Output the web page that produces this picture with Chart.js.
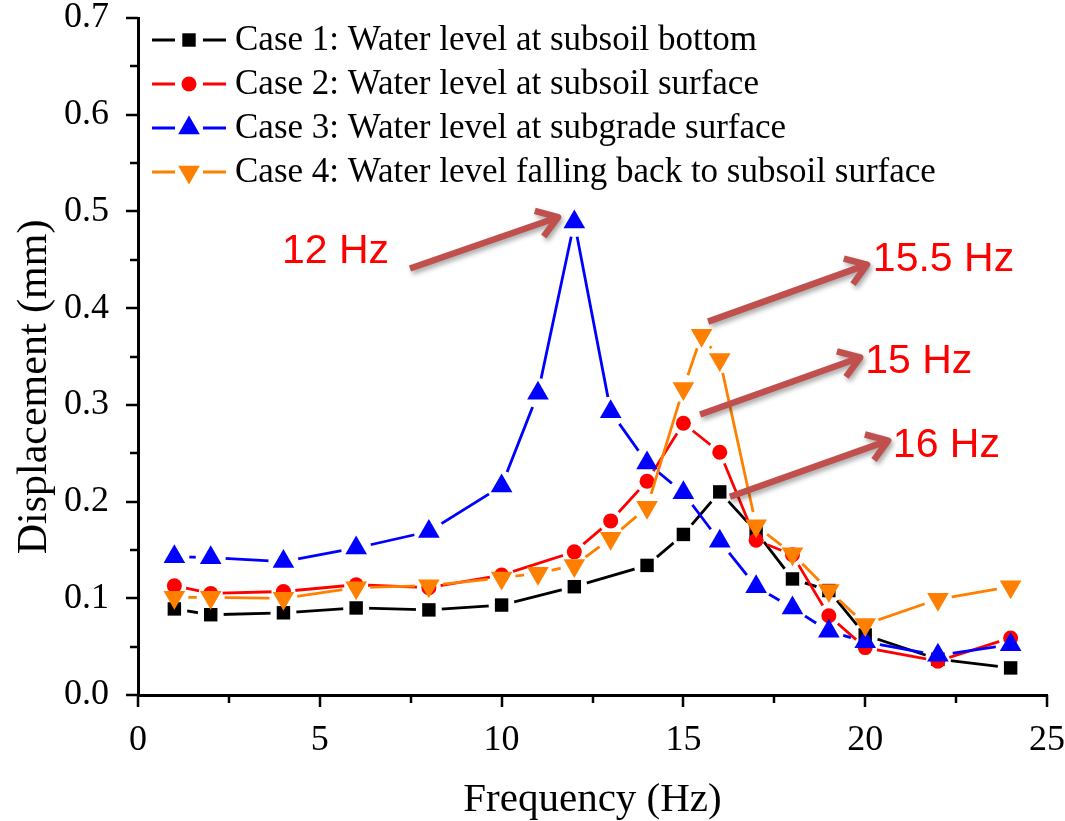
<!DOCTYPE html>
<html>
<head>
<meta charset="utf-8">
<script src="https://cdn.jsdelivr.net/npm/chart.js@4/dist/chart.umd.min.js"></script>
<style>
  html, body { margin: 0; padding: 0; background: #fff; }
</style>
</head>
<body>
<canvas id="chart" width="1065" height="821"></canvas>
<script>
// Frequencies (Hz) and displacement (mm)
const freq1 = [1, 2, 4, 6, 8, 10, 12, 14, 15, 16, 17, 18, 19, 20, 22, 24];
const case1 = [0.089, 0.083, 0.085, 0.090, 0.088, 0.093, 0.112, 0.134, 0.166, 0.210, 0.169, 0.120, 0.108, 0.062, 0.037, 0.028];

const freq2 = [1, 2, 4, 6, 8, 10, 12, 13, 14, 15, 16, 17, 18, 19, 20, 22, 24];
const case2 = [0.113, 0.105, 0.107, 0.114, 0.111, 0.124, 0.148, 0.180, 0.221, 0.281, 0.251, 0.160, 0.145, 0.082, 0.049, 0.035, 0.059];

const freq3 = [1, 2, 4, 6, 8, 10, 11, 12, 13, 14, 15, 16, 17, 18, 19, 20, 22, 24];
const case3 = [0.143, 0.142, 0.138, 0.152, 0.169, 0.216, 0.312, 0.489, 0.293, 0.240, 0.209, 0.159, 0.112, 0.090, 0.066, 0.055, 0.041, 0.052];

const freq4 = [1, 2, 4, 6, 8, 10, 11, 12, 13, 14, 15, 15.5, 16, 17, 18, 19, 20, 22, 24];
const case4 = [0.101, 0.101, 0.100, 0.111, 0.113, 0.121, 0.126, 0.134, 0.162, 0.194, 0.317, 0.372, 0.347, 0.175, 0.146, 0.108, 0.073, 0.099, 0.112];

const caseNames = [
    'Case 1: Water level at subsoil bottom',
    'Case 2: Water level at subsoil surface',
    'Case 3: Water level at subgrade surface',
    'Case 4: Water level falling back to subsoil surface'
];

const xTicksMajor = [0, 5, 10, 15, 20, 25];
const yTicksMajor = [0, 0.1, 0.2, 0.3, 0.4, 0.5, 0.6, 0.7];

const SERIF = "'Liberation Serif', 'Times New Roman', serif";
const SANS = "'Liberation Sans', Arial, sans-serif";

const series = [
    { label: caseNames[0], x: freq1, y: case1, color: '#000000', style: 'rect', radius: 9.5, rotation: 0, gap: 13 },
    { label: caseNames[1], x: freq2, y: case2, color: '#ff0000', style: 'circle', radius: 7.5, rotation: 0, gap: 12 },
    { label: caseNames[2], x: freq3, y: case3, color: '#0000ff', style: 'triangle', radius: 12.5, rotation: 0, gap: 15 },
    { label: caseNames[3], x: freq4, y: case4, color: '#ff8000', style: 'triangle', radius: 12.5, rotation: 180, gap: 14 }
];

// each case gets a line dataset (with gaps at its own symbols) and a symbol dataset
const datasets = [];
series.forEach((s, i) => {
    const pts = s.x.map((v, k) => ({ x: v, y: s.y[k] }));
    datasets.push({
        label: s.label,
        data: pts,
        borderColor: s.color,
        borderWidth: 2.8,
        pointRadius: 0,
        tension: 0,
        gap: s.gap,
        order: 8 - 2 * i
    });
    datasets.push({
        label: s.label,
        data: pts,
        showLine: false,
        pointStyle: s.style,
        pointRadius: s.radius,
        pointRotation: s.rotation,
        pointBackgroundColor: s.color,
        pointBorderColor: s.color,
        pointBorderWidth: 0,
        order: 7 - 2 * i
    });
});

// arrows and labels, in data coordinates
const notes = [
    { text: '12 Hz', at: [3.96, 0.447], from: [7.48, 0.441], to: [11.55, 0.494] },
    { text: '15.5 Hz', at: [20.21, 0.438], from: [15.68, 0.386], to: [20.05, 0.445] },
    { text: '15 Hz', at: [20.0, 0.333], from: [15.46, 0.290], to: [19.86, 0.349] },
    { text: '16 Hz', at: [20.76, 0.246], from: [16.28, 0.205], to: [20.63, 0.263] }
];

const lineGaps = {
    id: 'lineGaps',
    beforeDatasetDraw(chart, args) {
        const ds = chart.data.datasets[args.index];
        if (!ds.gap) return;
        const ctx = chart.ctx;
        ctx.save();
        ctx.beginPath();
        ctx.rect(0, 0, chart.width, chart.height);
        args.meta.data.forEach(p => {
            ctx.moveTo(p.x + ds.gap, p.y);
            ctx.arc(p.x, p.y, ds.gap, 0, Math.PI * 2);
        });
        ctx.clip('evenodd');
    },
    afterDatasetDraw(chart, args) {
        if (chart.data.datasets[args.index].gap) chart.ctx.restore();
    }
};

const axisTicks = {
    id: 'axisTicks',
    afterDraw(chart) {
        const { ctx, chartArea } = chart;
        const { x, y } = chart.scales;
        ctx.save();
        ctx.strokeStyle = '#000';
        ctx.lineWidth = 2.5;
        ctx.beginPath();
        for (let i = 0; i < xTicksMajor.length; i++) {
            const px = Math.round(x.getPixelForValue(xTicksMajor[i]));
            ctx.moveTo(px, chartArea.bottom);
            ctx.lineTo(px, chartArea.bottom + 12);
            if (i < xTicksMajor.length - 1) {
                const mx = Math.round(x.getPixelForValue((xTicksMajor[i] + xTicksMajor[i + 1]) / 2));
                ctx.moveTo(mx, chartArea.bottom);
                ctx.lineTo(mx, chartArea.bottom + 8);
            }
        }
        for (let i = 0; i < yTicksMajor.length; i++) {
            const py = Math.round(y.getPixelForValue(yTicksMajor[i]));
            ctx.moveTo(chartArea.left, py);
            ctx.lineTo(chartArea.left - 12, py);
            if (i < yTicksMajor.length - 1) {
                const my = Math.round(y.getPixelForValue((yTicksMajor[i] + yTicksMajor[i + 1]) / 2));
                ctx.moveTo(chartArea.left, my);
                ctx.lineTo(chartArea.left - 8, my);
            }
        }
        ctx.stroke();

        // y-axis title, sitting a little below the axis midpoint as in the original
        ctx.save();
        ctx.translate(35, chartArea.top + (chartArea.bottom - chartArea.top) * 0.545);
        ctx.rotate(-Math.PI / 2);
        ctx.fillStyle = '#000';
        ctx.font = '42px ' + SERIF;
        ctx.textAlign = 'center';
        ctx.textBaseline = 'middle';
        ctx.fillText('Displacement (mm)', 0, 0);
        ctx.restore();
        ctx.restore();
    }
};

const insideLegend = {
    id: 'insideLegend',
    afterDraw(chart) {
        const { ctx, chartArea } = chart;
        const left = chartArea.left;
        ctx.save();
        series.forEach((s, i) => {
            const yy = chartArea.top + 22 + i * 44;
            const mx = left + 51;
            ctx.strokeStyle = s.color;
            ctx.lineWidth = 2.8;
            ctx.beginPath();
            ctx.moveTo(left + 14, yy);
            ctx.lineTo(mx - 14, yy);
            ctx.moveTo(mx + 14, yy);
            ctx.lineTo(left + 88, yy);
            ctx.stroke();
            ctx.fillStyle = s.color;
            Chart.helpers.drawPoint(ctx, {
                pointStyle: s.style, radius: s.radius, rotation: s.rotation, borderWidth: 0
            }, mx, yy);
            ctx.fillStyle = '#000';
            ctx.font = '35px ' + SERIF;
            ctx.textBaseline = 'middle';
            ctx.textAlign = 'left';
            ctx.fillText(s.label, left + 97, yy + 1);
        });
        ctx.restore();
    }
};

const peakNotes = {
    id: 'peakNotes',
    afterDatasetsDraw(chart) {
        const { ctx } = chart;
        const { x, y } = chart.scales;
        ctx.save();
        notes.forEach(n => {
            const x1 = x.getPixelForValue(n.from[0]), y1 = y.getPixelForValue(n.from[1]);
            const x2 = x.getPixelForValue(n.to[0]), y2 = y.getPixelForValue(n.to[1]);
            const ang = Math.atan2(y2 - y1, x2 - x1);
            const head = 24, spread = 0.6;
            ctx.save();
            ctx.shadowColor = 'rgba(0,0,0,0.35)';
            ctx.shadowBlur = 5;
            ctx.shadowOffsetX = 2;
            ctx.shadowOffsetY = 3;
            ctx.strokeStyle = '#c0504d';
            ctx.lineWidth = 6.5;
            ctx.lineCap = 'butt';
            ctx.lineJoin = 'round';
            ctx.beginPath();
            ctx.moveTo(x1, y1);
            ctx.lineTo(x2, y2);
            ctx.moveTo(x2 - head * Math.cos(ang - spread), y2 - head * Math.sin(ang - spread));
            ctx.lineTo(x2, y2);
            ctx.lineTo(x2 - head * Math.cos(ang + spread), y2 - head * Math.sin(ang + spread));
            ctx.stroke();
            ctx.restore();

            ctx.fillStyle = '#ff0000';
            ctx.font = '41px ' + SANS;
            ctx.textAlign = 'left';
            ctx.textBaseline = 'alphabetic';
            ctx.fillText(n.text, x.getPixelForValue(n.at[0]), y.getPixelForValue(n.at[1]));
        });
        ctx.restore();
    }
};

new Chart(document.getElementById('chart'), {
    type: 'line',
    data: { datasets },
    plugins: [lineGaps, axisTicks, insideLegend, peakNotes],
    options: {
        responsive: false,
        animation: false,
        events: [],
        layout: { padding: { top: 18, right: 18, left: 0, bottom: 0 } },
        plugins: {
            legend: { display: false },
            tooltip: { enabled: false }
        },
        scales: {
            x: {
                type: 'linear',
                min: 0,
                max: 25,
                grid: { display: false },
                border: { display: true, color: '#000', width: 3 },
                ticks: {
                    stepSize: 5,
                    padding: 16,
                    color: '#000',
                    font: { family: SERIF, size: 36 }
                },
                title: {
                    display: true,
                    text: 'Frequency (Hz)',
                    color: '#000',
                    font: { family: SERIF, size: 41, lineHeight: 1 },
                    padding: { top: 0, bottom: 0 }
                },
                afterFit(scale) {
                    scale.height = 126;
                    scale.paddingLeft = 0;
                    scale.paddingRight = 0;
                }
            },
            y: {
                min: 0,
                max: 0.7,
                grid: { display: false },
                border: { display: true, color: '#000', width: 3 },
                ticks: {
                    stepSize: 0.1,
                    padding: 21,
                    color: '#000',
                    font: { family: SERIF, size: 36 },
                    callback: v => v.toFixed(1)
                },
                afterFit(scale) {
                    scale.width = 138;
                    scale.paddingTop = 0;
                    scale.paddingBottom = 0;
                }
            }
        }
    }
});
</script>
</body>
</html>
